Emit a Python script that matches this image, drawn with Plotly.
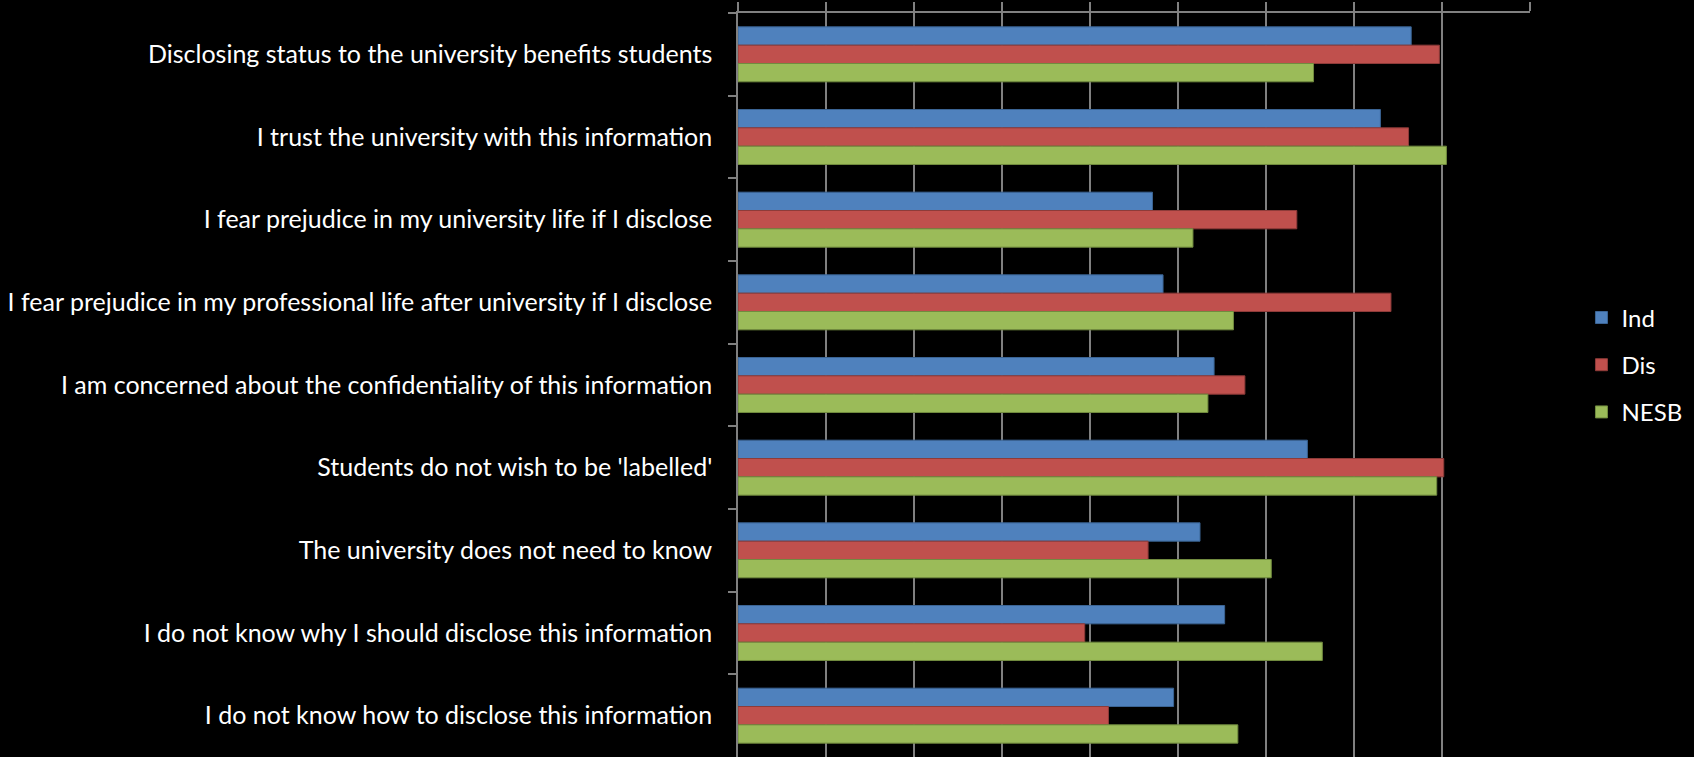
import plotly.graph_objects as go

categories = [
    "Disclosing status to the university benefits students",
    "I trust the university with this information",
    "I fear prejudice in my university life if I disclose",
    "I fear prejudice in my professional life after university if I disclose",
    "I am concerned about the confidentiality of this information",
    "Students do not wish to be 'labelled'",
    "The university does not need to know",
    "I do not know why I should disclose this information",
    "I do not know how to disclose this information",
]
ind = [7.65, 7.30, 4.71, 4.83, 5.41, 6.47, 5.25, 5.53, 4.95]
dis = [7.97, 7.62, 6.35, 7.42, 5.76, 8.02, 4.66, 3.94, 4.21]
nesb = [6.54, 8.05, 5.17, 5.63, 5.34, 7.94, 6.06, 6.64, 5.68]

series = [
    ("Ind", ind, "#4F81BD", "#3B6494"),
    ("Dis", dis, "#C0504D", "#8E3B39"),
    ("NESB", nesb, "#9BBB59", "#718B3F"),
]

fig = go.Figure()
for name, vals, col, edge in series:
    fig.add_trace(go.Bar(
        y=categories, x=vals, name=name, orientation="h",
        marker=dict(color=col, line=dict(color=edge, width=1)),
        legendgroup=name,
    ))

grid = "#808080"
fig.update_layout(
    width=1694, height=757,
    paper_bgcolor="black", plot_bgcolor="black",
    margin=dict(l=738, r=164, t=13, b=0),
    barmode="group", bargap=0.335, bargroupgap=0,
    font=dict(family="Lato, Carlito, Calibri, sans-serif", size=25, color="white"),
    showlegend=True,
    legend=dict(
        x=1.065, xanchor="left", y=0.527, yanchor="middle",
        traceorder="grouped", tracegroupgap=13,
        font=dict(size=24, color="white"),
        bgcolor="rgba(0,0,0,0)", itemwidth=30,
    ),
    xaxis=dict(
        side="top", range=[0, 9], dtick=1, tick0=0,
        showticklabels=False, ticks="outside", ticklen=9, tickcolor=grid, tickwidth=1.5,
        showgrid=True, gridcolor=grid, gridwidth=1.5,
        showline=True, linecolor=grid, linewidth=1.5, zeroline=False,
    ),
    yaxis=dict(
        autorange="reversed", automargin=False,
        tickson="boundaries", ticks="outside", ticklen=8, tickcolor=grid, tickwidth=1.5,
        showgrid=False, showline=True, linecolor=grid, linewidth=1.5,
        tickfont=dict(size=25, color="white"),
        ticklabelstandoff=19,
    ),
)

fig.write_html(
    "out.html",
    config={"displayModeBar": False},
    post_script="document.body.style.margin='0';document.body.style.background='black';",
)
